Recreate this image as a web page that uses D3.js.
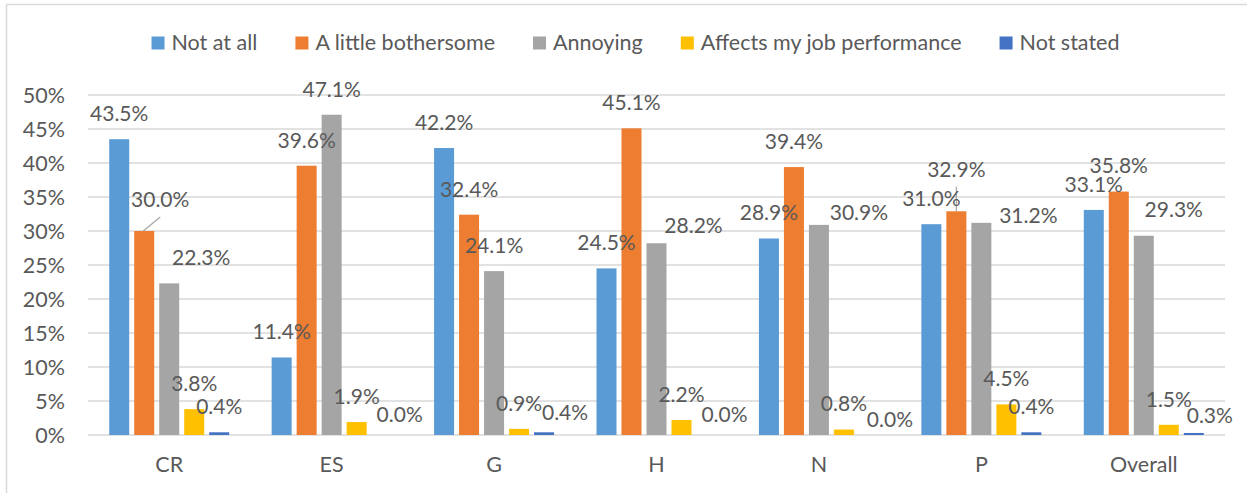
<!DOCTYPE html>
<html>
<head>
<meta charset="utf-8">
<script src="https://cdn.jsdelivr.net/npm/d3@7/dist/d3.min.js"></script>
<style>
  html, body { margin: 0; padding: 0; background: #fff; }
  svg { display: block; }
  text { font-family: Lato, "Open Sans", sans-serif; fill: #595959; }
</style>
</head>
<body>
<svg id="chart" width="1252" height="493"></svg>
<script>
// ---- data ----
const categories = ["CR", "ES", "G", "H", "N", "P", "Overall"];
const seriesNames = ["Not at all", "A little bothersome", "Annoying", "Affects my job performance", "Not stated"];
const notAtAll        = [43.5, 11.4, 42.2, 24.5, 28.9, 31.0, 33.1];
const aLittleBother   = [30.0, 39.6, 32.4, 45.1, 39.4, 32.9, 35.8];
const annoying        = [22.3, 47.1, 24.1, 28.2, 30.9, 31.2, 29.3];
const affectsJob      = [3.8, 1.9, 0.9, 2.2, 0.8, 4.5, 1.5];
const notStated       = [0.4, 0.0, 0.4, 0.0, 0.0, 0.4, 0.3];
const yTicks = [0, 5, 10, 15, 20, 25, 30, 35, 40, 45, 50];

// ---- styling / layout ----
const seriesValues = [notAtAll, aLittleBother, annoying, affectsJob, notStated];
const colors = ["#5B9BD5", "#ED7D31", "#A5A5A5", "#FFC000", "#4472C4"];
// manual data-label nudges [dx, dy] per series (rows) per category (cols), as in the source
const labelNudge = [
  [[0,0],[0,0],[0,0],[0,0],[0,0],[0,0],[0,0]],
  [[16,-5.5],[0,0],[0,0],[0,0],[0,0],[0,-16],[0,0]],
  [[32,0],[0,0],[0,0],[37,8],[40,13.5],[47,18],[30,-1]],
  [[0,0],[0,0],[0,0],[0,0],[0,0],[0,0],[0,0]],
  [[0,0],[18,5.5],[21,6],[18,5],[21,10.5],[0,0],[16,8]]
];

const svg = d3.select("#chart");
const plot = { left: 88, right: 1225, top: 95, bottom: 435 };

// frame (top and left edges visible)
svg.append("line").attr("x1", 6.5).attr("x2", 1247).attr("y1", 4.5).attr("y2", 4.5)
  .attr("stroke", "#d9d9d9").attr("stroke-width", 1.5);
svg.append("line").attr("x1", 6.5).attr("x2", 6.5).attr("y1", 4.5).attr("y2", 493)
  .attr("stroke", "#d9d9d9").attr("stroke-width", 1.5);

const y = d3.scaleLinear().domain([0, 50]).range([plot.bottom, plot.top]);
const x0 = d3.scaleBand().domain(categories).range([plot.left, plot.right]);
const x1 = d3.scaleBand().domain(seriesNames).range([0, 120]).paddingInner(0.2);
const groupOffset = (x0.bandwidth() - 120) / 2;

// gridlines
svg.append("g").selectAll("line").data(yTicks).join("line")
  .attr("x1", plot.left).attr("x2", plot.right)
  .attr("y1", d => y(d)).attr("y2", d => y(d))
  .attr("stroke", "#d9d9d9").attr("stroke-width", 1.5);

// y axis labels
const yAxis = d3.axisLeft(y).tickValues(yTicks).tickFormat(d => d + "%").tickSize(0).tickPadding(0);
const gy = svg.append("g").attr("transform", `translate(65,0)`).call(yAxis);
gy.select(".domain").remove();
gy.selectAll("text").style("font-size", "21.5px").attr("fill", "#595959")
  .style("font-family", "Lato, sans-serif").attr("dy", "0.35em");

// x axis labels
const xAxis = d3.axisBottom(x0).tickSize(0).tickPadding(0);
const gx = svg.append("g").attr("transform", `translate(0,${plot.bottom + 22})`).call(xAxis);
gx.select(".domain").remove();
gx.selectAll("text").style("font-size", "21.5px").attr("fill", "#595959")
  .style("font-family", "Lato, sans-serif").attr("dy", "0.71em");

// bars
const rows = [];
seriesNames.forEach((s, si) => {
  categories.forEach((c, ci) => {
    rows.push({ s, si, c, ci, v: seriesValues[si][ci] });
  });
});
const bx = d => x0(d.c) + groupOffset + x1(d.s);

svg.append("g").selectAll("rect").data(rows).join("rect")
  .attr("x", bx).attr("width", x1.bandwidth())
  .attr("y", d => y(d.v)).attr("height", d => y(0) - y(d.v))
  .attr("fill", d => colors[d.si]);

// leader lines for moved labels
const leaders = [
  { si: 1, ci: 0 }, { si: 1, ci: 5 }
];
leaders.forEach(({ si, ci }) => {
  const d = rows.find(r => r.si === si && r.ci === ci);
  const cx = bx(d) + x1.bandwidth() / 2;
  const top = y(d.v);
  const nd = labelNudge[si][ci];
  const lx = cx + nd[0], ly = top - 25.5 + nd[1];
  if (nd[0] !== 0) {
    svg.append("line").attr("x1", cx - 1).attr("y1", top).attr("x2", lx).attr("y2", ly + 17)
      .attr("stroke", "#a5a5a5").attr("stroke-width", 1.2);
  } else {
    svg.append("line").attr("x1", cx).attr("y1", top).attr("x2", cx).attr("y2", ly + 17)
      .attr("stroke", "#a5a5a5").attr("stroke-width", 1.2);
  }
});

// data labels
svg.append("g").selectAll("text").data(rows).join("text")
  .attr("x", d => bx(d) + x1.bandwidth() / 2 + labelNudge[d.si][d.ci][0])
  .attr("y", d => y(d.v) - 25.5 + labelNudge[d.si][d.ci][1])
  .attr("dy", "0.35em")
  .attr("text-anchor", "middle")
  .style("font-size", "21px")
  .text(d => d.v.toFixed(1) + "%");

// legend
const legend = svg.append("g");
const items = legend.selectAll("g").data(seriesNames).join("g");
items.append("rect").attr("width", 13).attr("height", 13).attr("y", 36.5)
  .attr("fill", (d, i) => colors[i]);
items.append("text").attr("x", 20).attr("y", 42.5).attr("dy", "0.35em")
  .style("font-size", "21.5px").text(d => d);
let widths = [];
items.each(function () { widths.push(20 + d3.select(this).select("text").node().getComputedTextLength()); });
const gap = 38;
const total = d3.sum(widths) + gap * (widths.length - 1);
let cur = 635.5 - total / 2;
items.attr("transform", (d, i) => { const t = `translate(${cur},0)`; cur += widths[i] + gap; return t; });
</script>
</body>
</html>
